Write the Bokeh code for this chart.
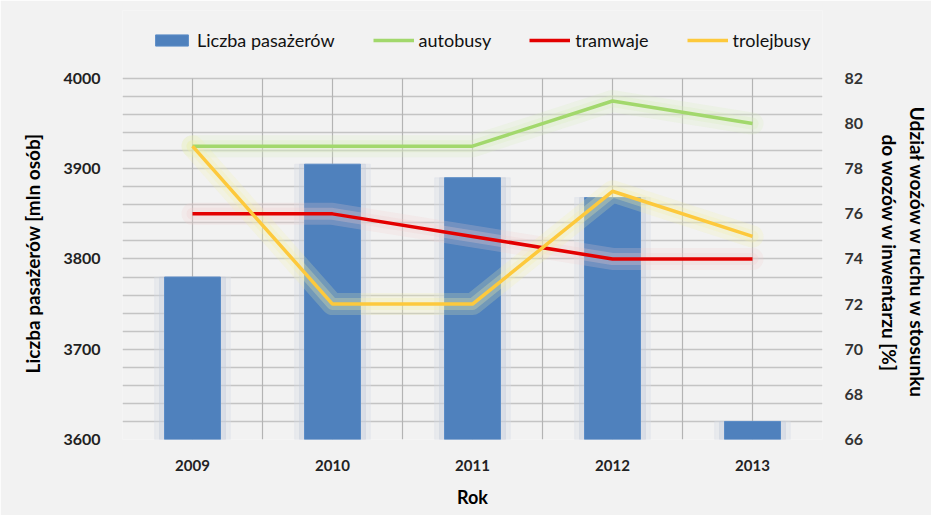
from bokeh.plotting import figure
from bokeh.models import (Range1d, LinearAxis, FixedTicker, Legend, LegendItem,
                          ColumnDataSource, Grid)
from bokeh.embed import file_html
from bokeh.resources import INLINE

years = ["2009", "2010", "2011", "2012", "2013"]
passengers = [3780, 3905, 3890, 3868, 3620]
autobusy = [79, 79, 79, 81, 80]
tramwaje = [76, 76, 75, 74, 74]
trolejbusy = [79, 72, 72, 77, 75]
left_ticks = [3600, 3700, 3800, 3900, 4000]
right_ticks = [66, 68, 70, 72, 74, 76, 78, 80, 82]

xs = [i + 0.5 for i in range(len(years))]
src = ColumnDataSource(dict(x=xs, year=years, p=passengers,
                            a=autobusy, t=tramwaje, tr=trolejbusy))

FONT = "Lato"
BG = "#f2f2f2"
EM = "\u2003"  # em spaces keep the axis titles centred on the plot area

# plot area spans 3600..4000 (left) / 66..82 (right); the frame is extended
# upward to leave room for the legend inside the canvas
L0, L1 = left_ticks[0], left_ticks[-1]
R0, R1 = right_ticks[0], right_ticks[-1]
TOP_PAD = 75.3  # extra left-axis units above the plot area (legend room)
ratio = (R1 - R0) / (L1 - L0)

p = figure(width=931, height=515, output_backend="svg", toolbar_location=None,
           x_range=Range1d(0, len(years)), y_range=Range1d(L0, L1 + TOP_PAD),
           background_fill_color=BG, border_fill_color=BG,
           min_border_left=122, min_border_right=106, min_border_top=10,
           min_border_bottom=76)
p.outline_line_color = None
p.extra_y_ranges = {"pct": Range1d(R0, R1 + TOP_PAD * ratio)}

# grids (plot-area border comes from the outermost grid lines)
p.xgrid.visible = False
p.ygrid.visible = False
p.add_layout(Grid(dimension=1, ticker=FixedTicker(ticks=list(range(L0, L1 + 1, 20))),
                  grid_line_color="#c4c4c4", grid_line_width=1.5))
p.add_layout(Grid(dimension=0, ticker=FixedTicker(ticks=[i * 0.5 for i in range(2 * len(years) + 1)]),
                  cross_bounds=(L0, L1),
                  grid_line_color="#b4b4b4", grid_line_width=1.2))

# bar shadows / glow
p.vbar(x="x", top="p", bottom=L0, width=0.54, source=src, color="#d6dce6", alpha=0.35)
p.vbar(x="x", top="p", bottom=L0, width=0.47, source=src, color="#c6cedb", alpha=0.4)
bars = p.vbar(x="x", top="p", bottom=L0, width=0.4, source=src,
              fill_color="#4f81bd", line_color="#5b8cc6", line_width=1)

# line glows
glow = {"a": "#d6ecbc", "t": "#f0cccc", "tr": "#f3f0a8"}
for key, col in glow.items():
    p.line(x="x", y=key, source=src, y_range_name="pct", line_width=22,
           line_color=col, line_alpha=0.22, line_join="round", line_cap="round")
    p.line(x="x", y=key, source=src, y_range_name="pct", line_width=12,
           line_color=col, line_alpha=0.28, line_join="round", line_cap="round")

la = p.line(x="x", y="a", source=src, y_range_name="pct", line_width=3.5,
            line_color="#a2d86c")
lt = p.line(x="x", y="t", source=src, y_range_name="pct", line_width=3.5,
            line_color="#e30000")
ltr = p.line(x="x", y="tr", source=src, y_range_name="pct", line_width=3.5,
             line_color="#fdc93c")

# axes
p.xaxis.ticker = FixedTicker(ticks=xs)
p.xaxis.major_label_overrides = {x: y for x, y in zip(xs, years)}
p.xaxis.axis_label = "Rok"
p.yaxis.ticker = FixedTicker(ticks=left_ticks)
p.yaxis.bounds = (L0, L1)
p.yaxis.axis_label = "Liczba pasażerów [mln osób]" + EM * 4

right = LinearAxis(y_range_name="pct", ticker=FixedTicker(ticks=right_ticks),
                   bounds=(R0, R1),
                   axis_label=EM * 4 + "Udział wozów w ruchu w stosunku\n" +
                              EM * 4 + "do wozów w inwentarzu [%]")
p.add_layout(right, "right")

for ax in [p.xaxis[0], p.yaxis[0], right]:
    ax.axis_line_color = None
    ax.major_tick_line_color = None
    ax.minor_tick_line_color = None
    ax.major_label_text_font = FONT
    ax.axis_label_text_font = FONT
    ax.major_label_text_font_size = "16px"
    ax.axis_label_text_font_size = "18px"
    ax.axis_label_text_font_style = "bold"
    ax.axis_label_text_color = "#000000"

p.xaxis.major_label_text_font_size = "15px"
p.xaxis.major_label_text_font_style = "bold"
p.xaxis.major_label_text_color = "#222222"
p.xaxis.major_label_standoff = 14
p.xaxis.axis_label_standoff = 12
p.yaxis.major_label_text_font_style = "bold"
p.yaxis.major_label_text_color = "#222222"
p.yaxis.major_label_standoff = 16
p.yaxis.axis_label_standoff = 16
p.yaxis.axis_label_text_font_size = "19px"
right.major_label_text_color = "#333333"
right.major_label_standoff = 16
right.axis_label_standoff = 12

legend = Legend(items=[LegendItem(label="Liczba pasażerów", renderers=[bars]),
                       LegendItem(label="autobusy", renderers=[la]),
                       LegendItem(label="tramwaje", renderers=[lt]),
                       LegendItem(label="trolejbusy", renderers=[ltr])],
                orientation="horizontal", location=(29, 388),
                label_text_font=FONT, label_text_font_size="18px",
                label_text_color="#111111",
                glyph_width=41, glyph_height=14, spacing=38, label_standoff=5,
                padding=0, margin=0, border_line_color=None,
                background_fill_alpha=0)
p.add_layout(legend, "center")

open("out.html", "w").write(file_html(p, INLINE))
